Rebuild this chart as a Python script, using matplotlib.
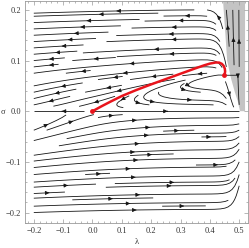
import numpy as np
import matplotlib
matplotlib.use("Agg")
import matplotlib.pyplot as plt
from matplotlib.patches import Polygon

# ---- data ----
lam_range = [-0.2, 0.5]
sig_range = [-0.2, 0.2]
fixed_lam = [0.0, 0.449]
fixed_sig = [0.0, 0.0715]
red_lam = [0.0, 0.03, 0.06, 0.10, 0.15, 0.20, 0.25, 0.30, 0.35, 0.38, 0.40, 0.42,
           0.432, 0.441, 0.447, 0.451, 0.452, 0.451, 0.449]
red_sig = [0.0, 0.0095, 0.0185, 0.030, 0.042, 0.053, 0.0635, 0.074, 0.0845, 0.0905, 0.094, 0.0962,
           0.0960, 0.0935, 0.0895, 0.0840, 0.0785, 0.0745, 0.0715]
gray_lam = [0.445, 0.452, 0.459, 0.472, 0.485, 0.495, 0.503, 0.52, 0.52]
gray_sig = [0.2176, 0.16, 0.10, 0.065, 0.038, 0.020, 0.0, 0.0, 0.2176]
xticks = [-0.2, -0.1, 0.0, 0.1, 0.2, 0.3, 0.4, 0.5]
yticks = [-0.2, -0.1, 0.0, 0.1, 0.2]

# ---- vector field parameters ----
SL = fixed_sig[1] / fixed_lam[1]
SL_LEFT = 0.05
GAMMA, SIGC = 0.16, 0.06
K1, K2, LE, ELL = 600.0, 27.0, 0.5, 0.015

lam = np.linspace(lam_range[0], lam_range[1], 281)
sig = np.linspace(sig_range[0], sig_range[1], 161)
L, S = np.meshgrid(lam, sig)
E = np.exp((L - LE) / ELL)
W = 1.0 / (1.0 + (S / SIGC) ** 2)
U = np.where(L > 0, SL, SL_LEFT) * L - S
V = GAMMA * S * (L / fixed_lam[1] - 1) * W + E * np.where(S >= 0, K1 * S * (S - fixed_sig[1]), K2 * S ** 2)

fig = plt.figure(figsize=(2.49, 2.48), dpi=100)
ax = fig.add_axes([25 / 249, 1 - 223 / 248, 223 / 249, 222 / 248])

ax.add_patch(Polygon(np.column_stack([gray_lam, gray_sig]), closed=True,
                     facecolor="#c4c4c4", edgecolor="none", zorder=0))

kw = dict(density=1.1, color="#151515", linewidth=0.6, arrowsize=0.55,
          arrowstyle="-|>", broken_streamlines=True)
try:
    ax.streamplot(lam, sig, U, V, num_arrows=3, **kw)
except TypeError:
    ax.streamplot(lam, sig, U, V, **kw)

ax.plot(red_lam, red_sig, color="#e8141c", lw=1.8, solid_capstyle="round",
        solid_joinstyle="round", zorder=5)
ax.plot([fixed_lam[0], fixed_lam[1]], [fixed_sig[0], fixed_sig[1]], "o", color="#e8141c",
        ms=3.5, mec="none", zorder=6)

ax.set_xlim(-0.23, 0.53)
ax.set_ylim(-0.2207, 0.2176)
ax.set_xticks(xticks)
ax.set_yticks(yticks)
ax.set_xticks(np.arange(-0.22, 0.53, 0.02), minor=True)
ax.set_yticks(np.arange(-0.22, 0.22, 0.02), minor=True)
fmt = lambda v: ("\u2212" if v < -1e-9 else "") + "%.1f" % abs(v)
ax.set_xticklabels([fmt(v) for v in xticks])
ax.set_yticklabels([fmt(v) for v in yticks])
for s in ax.spines.values():
    s.set_color("#9a9a9a")
    s.set_linewidth(0.6)
ax.tick_params(which="both", direction="in", top=True, right=True, color="#9a9a9a",
               labelsize=6, labelcolor="#333333", width=0.5)
ax.tick_params(which="major", length=3, pad=3)
ax.tick_params(which="minor", length=1.5)
for t in ax.get_xticklabels() + ax.get_yticklabels():
    t.set_fontfamily("Liberation Serif")
ax.set_xlabel("\u03bb", fontsize=6, family="Liberation Serif", color="#333333", labelpad=2)
ax.set_ylabel("\u03c3", fontsize=6, family="Liberation Serif", color="#333333", rotation=0,
              labelpad=2, va="center")
fig.savefig("out.png", dpi=100)
